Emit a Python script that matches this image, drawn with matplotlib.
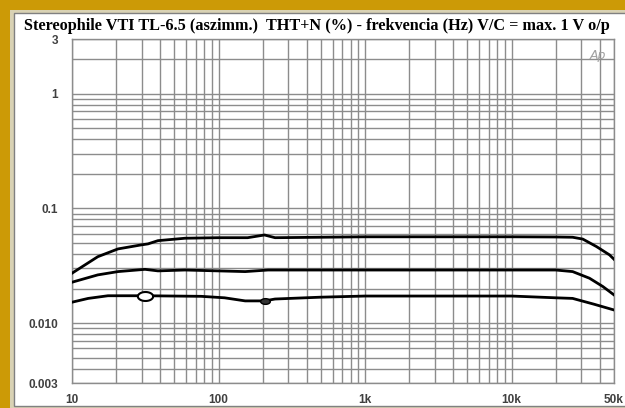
import numpy as np
import matplotlib.pyplot as plt
from matplotlib.patches import Rectangle
from matplotlib.path import Path

# THD+N (%) vs frequency
top_f = [10, 15, 20.6, 29.6, 33, 38.6, 59, 99, 158, 206, 243, 1000, 10000, 20000, 26100, 30600, 38000, 46600, 50000]
top_v = [0.0272, 0.0379, 0.0443, 0.048, 0.049, 0.0523, 0.0549, 0.0555, 0.0555, 0.0586, 0.0555, 0.0565, 0.0565, 0.0563, 0.056, 0.054, 0.0464, 0.0393, 0.036]

mid_f = [10, 15, 20.6, 31.5, 38.6, 59, 152, 218, 1000, 10000, 20000, 26100, 34000, 42000, 50000]
mid_v = [0.0227, 0.0263, 0.0281, 0.0294, 0.0285, 0.029, 0.0281, 0.029, 0.029, 0.029, 0.029, 0.0281, 0.0246, 0.0208, 0.0176]

bot_f = [10, 12.9, 17.6, 31.5, 76, 110, 152, 206, 243, 492, 1000, 10000, 20000, 26100, 36500, 50000]
bot_v = [0.0152, 0.0164, 0.0173, 0.0173, 0.0171, 0.0166, 0.0156, 0.0156, 0.0162, 0.0168, 0.0172, 0.0172, 0.0166, 0.0164, 0.0146, 0.013]

xticks = [10, 100, 1000, 10000, 50000]
xlabels = ['10', '100', '1k', '10k', '50k']
yticks = [0.003, 0.010, 0.1, 1, 3]
ylabels = ['0.003', '0.010', '0.1', '1', '3']

W, H = 625, 408
fig = plt.figure(figsize=(W/100, H/100), dpi=100)
fig.patch.set_facecolor('#CC9A06')

# frame: beige strip then white panel with thin grey edge
fig.add_artist(Rectangle((10/W, 0), 1, 1 - 10/H, transform=fig.transFigure,
                         facecolor='#D9D2B4', edgecolor='none', zorder=0))
fig.add_artist(Rectangle((14/W, 2/H), 1, 1 - 15/H, transform=fig.transFigure,
                         facecolor='white', edgecolor='#808080', linewidth=1, zorder=0))

ax = fig.add_axes([72/W, 25/H, 542/W, 344/H])
ax.set_xscale('log')
ax.set_yscale('log')
ax.set_xlim(10, 50000)
ax.set_ylim(0.003, 3)
ax.set_facecolor('white')

# grid lines (log minor grid)
gcol = '#8c8c8c'
for d in [10, 100, 1000, 10000]:
    for m in range(1, 10):
        f = d * m
        if f <= 50000:
            ax.axvline(f, color=gcol, lw=1.0, zorder=1)
for d in [0.001, 0.01, 0.1, 1]:
    for m in range(1, 10):
        v = d * m
        if 0.003 <= v <= 3:
            ax.axhline(v, color=gcol, lw=1.0, zorder=1)

for s in ax.spines.values():
    s.set_color(gcol)
    s.set_linewidth(1.0)

# flat ellipse marker for the cursor
t = np.linspace(0, 2*np.pi, 40)
ell = Path(np.column_stack([1.7*np.cos(t), np.sin(t)]))

ax.plot(top_f, top_v, color='black', lw=2.0, zorder=3)
ax.plot(mid_f, mid_v, color='black', lw=2.0, zorder=3)
ax.plot(bot_f, bot_v, color='black', lw=2.0, zorder=3)
ax.plot([31.5], [0.0173], marker=ell, ms=11, mfc='white', mec='black', mew=1.5, zorder=4)
ax.plot([206], [0.0156], marker=ell, ms=7, mfc='#333333', mec='black', zorder=4)

ax.set_xticks(xticks)
ax.set_xticklabels(xlabels)
ax.set_yticks(yticks)
ax.set_yticklabels(ylabels)
ax.minorticks_off()
ax.tick_params(length=0, labelsize=8.5, colors='#404040', pad=10)
ax.tick_params(axis='x', pad=8)
for lb in ax.get_xticklabels() + ax.get_yticklabels():
    lb.set_fontweight('bold')
    lb.set_family('Liberation Sans')

ax.text(0.985, 0.97, 'Ap', transform=ax.transAxes, ha='right', va='top',
        fontsize=9, style='italic', color='#a0a0a0', zorder=5)

fig.text(24/W, 1 - 26/H, 'Stereophile VTI TL-6.5 (aszimm.)  THT+N (%) - frekvencia (Hz) V/C = max. 1 V o/p',
         family='Liberation Serif', fontweight='bold', fontsize=11.7, va='center', ha='left')

fig.savefig('out.png', dpi=100, facecolor=fig.get_facecolor())
